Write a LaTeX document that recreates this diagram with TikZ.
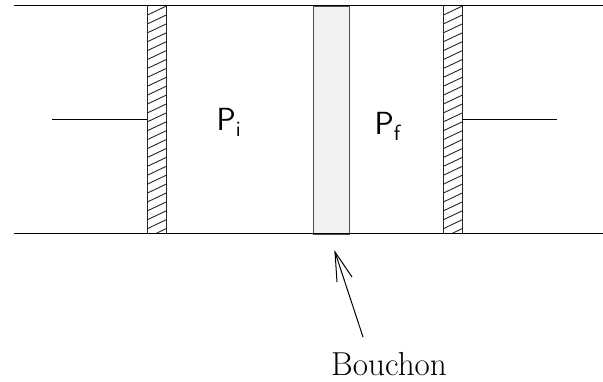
\documentclass[tikz,border=0pt]{standalone}
\tikzset{
  every picture/.style={x=1pt,y=-1pt},
  ln/.style={line width=1pt,black},
  wallbox/.style={draw=black!85,line width=1pt,fill=none},
  plug/.style={draw=black!70,line width=1pt,fill=black!5},
  hatch/.style={line width=0.9pt,black!85},
  lab/.style={inner sep=0pt,anchor=base west,font=\fontsize{33.2}{40}\selectfont},
  plab/.style={inner sep=0pt,anchor=base west,font=\sffamily\fontsize{32}{40}\selectfont}
}
\newcommand{\subtxt}[1]{\raisebox{-6pt}{\fontsize{22}{26}\selectfont #1}}
\newcommand{\hatchwall}[2]{%
  \begin{scope}
    \clip (#1,5.5) rectangle (#2,233.5);
    \foreach \k in {-1,...,26}{
      \draw[hatch] (#1,{15+8.9*\k}) -- (#2,{6+8.9*\k});
    }
  \end{scope}
  \draw[wallbox] (#1,5.5) rectangle (#2,233.5);
}
\begin{document}
\begin{tikzpicture}
\useasboundingbox (0,0) rectangle (603,381);
\node[plug,minimum width=36pt,minimum height=228pt,inner sep=0pt,anchor=north west] (bouchon) at (313,5.5) {};
\hatchwall{147.5}{166.5}
\hatchwall{443.5}{462.5}
\coordinate (tl) at (14,5.5); \coordinate (tr) at (603,5.5);
\coordinate (bl) at (14,233.5); \coordinate (br) at (603,233.5);
\draw[ln] (tl) -- (tr);
\draw[ln] (bl) -- (br);
\coordinate (rl0) at (52,119.5); \coordinate (rl1) at (147,119.5);
\coordinate (rr0) at (462,119.5); \coordinate (rr1) at (557,119.5);
\draw[ln] (rl0) -- (rl1);
\draw[ln] (rr0) -- (rr1);
\node[plab] (pi) at (216.5,130) {P\subtxt{i}};
\node[plab] (pf) at (374.5,134) {P\subtxt{f}};
\node[lab] (blabel) at (331,375) {Bouchon};
\coordinate (tail) at (363,337); \coordinate (tip) at (335,252);
\coordinate (b1) at (337,282); \coordinate (b2) at (352,277);
\draw[ln] (tail) -- (tip);
\draw[ln,line join=miter] (b1) -- (tip) -- (b2);
\end{tikzpicture}
\end{document}
